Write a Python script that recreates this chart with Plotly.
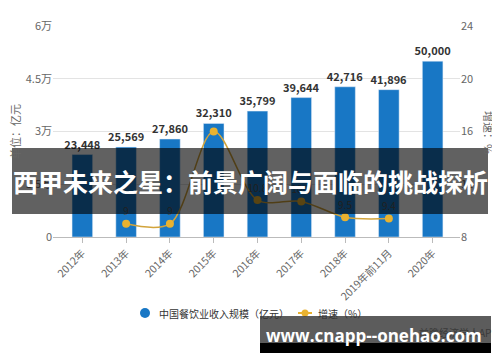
import plotly.graph_objects as go

categories = ["2012年", "2013年", "2014年", "2015年", "2016年", "2017年", "2018年", "2019年前11月", "2020年"]
revenue = [23448, 25569, 27860, 32310, 35799, 39644, 42716, 41896, 50000]
growth_categories = ["2013年", "2014年", "2015年", "2016年", "2017年", "2018年", "2019年前11月"]
growth = [9, 9, 16, 10.8, 10.7, 9.5, 9.4]
growth_labels = ["9", "9", "", "10.8", "10.7", "9.5", "9.4"]
left_ticks = [0, 15000, 30000, 45000, 60000]
left_tick_labels = ["0", "1.5万", "3万", "4.5万", "6万"]
right_ticks = [8, 12, 16, 20, 24]
series_names = ["中国餐饮业收入规模（亿元）", "增速（%）"]

OFF = 8  # page body margin
W, H = 500 - OFF, 362 - OFF
# plot area in page pixels: x 53..460, y 26..237
L, R, T, B = 53 - OFF, 500 - 460, 26 - OFF, 362 - 237
PW, PH = W - L - R, H - T - B

def px(x):  # page x -> paper
    return (x - 53) / PW

def py(y):  # page y -> paper
    return (237 - y) / PH

FONT = "Noto Sans CJK SC"
BLUE = "#1877c5"
GOLD = "#e9b230"

fig = go.Figure()
fig.add_trace(go.Bar(
    x=categories, y=revenue, marker_color=BLUE, width=0.47,
    texttemplate="%{y:,}", textposition="outside", cliponaxis=False,
    constraintext="none", name=series_names[0],
    textfont=dict(size=11, color="#333", family=FONT, weight="bold"),
    showlegend=False, yaxis="y"))
fig.add_trace(go.Scatter(
    x=growth_categories, y=growth, yaxis="y2", mode="lines+markers+text",
    line=dict(color="#d2a43c", width=1.5, shape="spline", smoothing=0.9),
    marker=dict(color=GOLD, size=8), name=series_names[1],
    text=growth_labels, textposition="top center",
    textfont=dict(size=10, color="#555", family=FONT),
    cliponaxis=False, showlegend=False))

fig.update_layout(
    width=W, height=H, margin=dict(l=L, r=R, t=T, b=B, autoexpand=False),
    paper_bgcolor="white", plot_bgcolor="white",
    font=dict(family=FONT, color="#555", size=11),
    showlegend=False,
    xaxis=dict(type="category", range=[-0.67, 8.625], tickangle=-45,
               tickfont=dict(size=10.5, color="#666"), showline=True,
               linecolor="#bbb", ticks="outside", ticklen=5, tickcolor="#bbb",
               showgrid=False, automargin=False),
    yaxis=dict(range=[0, 60000], tickvals=left_ticks, ticktext=left_tick_labels,
               showgrid=True, gridcolor="#e3e3e3", zeroline=False,
               tickfont=dict(size=11, color="#666"), ticks="", automargin=False),
    yaxis2=dict(range=[8, 24], tickvals=right_ticks, overlaying="y", side="right",
                showgrid=False, zeroline=False, tickfont=dict(size=11, color="#666"),
                automargin=False),
)

def ann(text, x, y, size, color, xanchor="center", angle=0, family=FONT, weight="normal"):
    return dict(text=text, x=px(x), y=py(y), xref="paper", yref="paper",
                xanchor=xanchor, yanchor="middle", textangle=angle, showarrow=False,
                font=dict(size=size, color=color, family=family, weight=weight))

annotations = [
    ann("单位：亿元", 15, 132, 11, "#666", angle=-90),
    ann("增速：%", 489, 132, 11, "#666", angle=90),
    # manual legend
    ann(series_names[0], 157, 313, 10, "#333", xanchor="left"),
    ann(series_names[1], 316, 313, 10, "#333", xanchor="left"),
    ann("前瞻经济学人APP", 500, 332, 10, "#3a3a3a", xanchor="right"),
    # overlays
    ann("西甲未来之星：前景广阔与面临的挑战探析", 250, 181, 25, "white", weight="bold"),
    ann("www.cnapp--onehao.com", 374, 335, 17, "white", family="Open Sans", weight="bold"),
]
fig.update_layout(annotations=annotations)

def circle(cx, cy, r, color):
    return dict(type="circle", xref="paper", yref="paper",
                x0=px(cx - r), x1=px(cx + r), y0=py(cy + r), y1=py(cy - r),
                fillcolor=color, line_width=0)

shapes = [
    circle(145, 313, 5, BLUE),
    dict(type="line", xref="paper", yref="paper", x0=px(298), x1=px(312),
         y0=py(313), y1=py(313), line=dict(color=GOLD, width=2)),
    circle(305, 313, 3.5, GOLD),
    dict(type="rect", xref="paper", yref="paper", x0=px(12), x1=px(488),
         y0=py(214), y1=py(148), fillcolor="rgba(0,0,0,0.62)", line_width=0, layer="above"),
    dict(type="rect", xref="paper", yref="paper", x0=px(260), x1=px(491),
         y0=py(343), y1=py(316), fillcolor="rgba(0,0,0,0.64)", line_width=0, layer="above"),
    dict(type="rect", xref="paper", yref="paper", x0=px(260), x1=px(491),
         y0=py(353), y1=py(343), fillcolor="#000", line_width=0, layer="above"),
]
fig.update_layout(shapes=shapes)

fig.write_html("out.html")
